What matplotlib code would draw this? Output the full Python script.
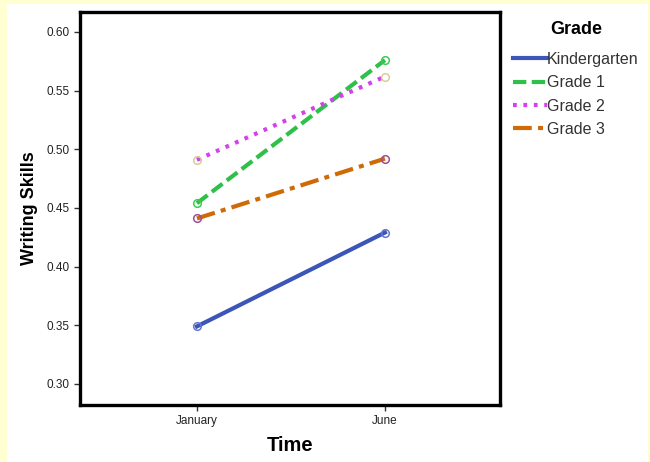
import matplotlib
matplotlib.use("Agg")
import matplotlib.pyplot as plt
from matplotlib.patches import Rectangle

plt.rcParams['font.family'] = ['Liberation Sans', 'DejaVu Sans']

times = ["January", "June"]
grades = ["Kindergarten", "Grade 1", "Grade 2", "Grade 3"]
kindergarten = [0.349, 0.429]
grade1 = [0.454, 0.576]
grade2 = [0.491, 0.562]
grade3 = [0.441, 0.492]

series = [kindergarten, grade1, grade2, grade3]
colors = ["#3b55b8", "#2fc04a", "#d540ee", "#d06a06"]
marker_edges = ["#6677cc", "#3ccc55", "#d8cc98", "#9b4f9b"]
styles = ["-", (0, (3.2, 1.3)), (0, (0.9, 1.6)), (0, (4.5, 1.5, 1.2, 1.5))]

W, H = 650, 462
fig = plt.figure(figsize=(6.5, 4.62), dpi=100, facecolor="#ffffd2")
fig.patches.append(Rectangle((7 / W, 0), 641 / W, 458 / H, transform=fig.transFigure,
                             facecolor="white", edgecolor="none", zorder=-1))

ax = fig.add_axes([80 / W, (H - 405) / H, 420 / W, 393 / H])
x = range(len(times))
for vals, name, c, me, ls in zip(series, grades, colors, marker_edges, styles):
    ax.plot(x, vals, color=c, linestyle=ls, linewidth=3, label=name)
    ax.plot(x, vals, linestyle="none", marker="o", markersize=5.5,
            markerfacecolor="none", markeredgecolor=me, markeredgewidth=1.1)

ax.set_xlim(-0.622, 1.612)
ax.set_ylim(0.282, 0.617)
ax.set_xticks(list(x))
ax.set_xticklabels(times)
ax.set_yticks([0.30, 0.35, 0.40, 0.45, 0.50, 0.55, 0.60])
ax.set_yticklabels(["0.30", "0.35", "0.40", "0.45", "0.50", "0.55", "0.60"])
ax.tick_params(labelsize=8.5, length=4, width=1, color="#333333", labelcolor="#222222")
for s in ax.spines.values():
    s.set_linewidth(2.4)
    s.set_color("black")

ax.set_ylabel("Writing Skills", fontsize=13, fontweight="bold", labelpad=6)
ax.set_xlabel("Time", fontsize=14.5, fontweight="bold", labelpad=6)

handles = ax.get_lines()[0::2]
leg = fig.legend(handles, grades, loc="upper left", bbox_to_anchor=(502 / W, 1 - 10 / H),
                 frameon=False, fontsize=11.5, handlelength=2.1, handletextpad=0.0,
                 labelspacing=0.52, borderaxespad=0.3, title="Grade",
                 title_fontproperties={"weight": "bold", "size": 13})
leg._legend_box.sep = 10
for t in leg.get_texts():
    t.set_color("#333333")

fig.savefig("out.png", dpi=100, facecolor=fig.get_facecolor())
